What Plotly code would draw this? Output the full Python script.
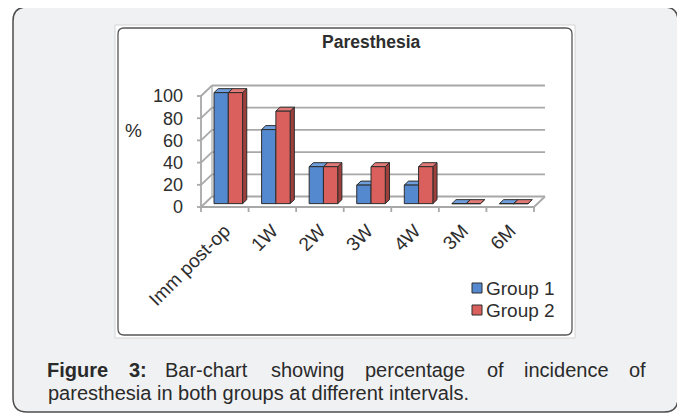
import plotly.graph_objects as go

# ---------------- data ----------------
categories = ["Imm post-op", "1W", "2W", "3W", "4W", "3M", "6M"]
group1 = [100, 66.7, 33.3, 16.7, 16.7, 0, 0]
group2 = [100, 83.3, 33.3, 33.3, 33.3, 0, 0]
series_names = ["Group 1", "Group 2"]
y_ticks = [0, 20, 40, 60, 80, 100]

# ---------------- geometry (window pixels) ----------------
W, H = 685, 419
OFF = 8.0             # page body margin around the plot div
X_LEFT_PX = 201.0     # front-left corner of the floor
CAT_PX = 47.57        # width of one category on the front plane
Y0_PX = 207.0         # value 0 on the front plane
UNIT_PX = 1.11        # pixels per percent on the front plane
DEPTH_PX = (11.0, 10.5)  # depth vector (right, up)
DOM_X = (195.0, 560.0)
DOM_Y = (70.0, 215.0)   # top, bottom

n = len(categories)
xmin = -0.5 - (X_LEFT_PX - DOM_X[0]) / CAT_PX
xmax = xmin + (DOM_X[1] - DOM_X[0]) / CAT_PX
ymin = -(DOM_Y[1] - Y0_PX) / UNIT_PX
ymax = (Y0_PX - DOM_Y[0]) / UNIT_PX
ddx = DEPTH_PX[0] / CAT_PX
ddy = DEPTH_PX[1] / UNIT_PX

BAR_W = 0.30
F0, F1 = 0.32, 0.70

colors = {
    "Group 1": {"front": "#5589cf", "top": "#6f9edc", "side": "#3b6399"},
    "Group 2": {"front": "#d9605c", "top": "#e27b77", "side": "#9e3f3c"},
}
OUTLINE = "#2d2d2d"
GRID = "#a8a8a8"
TXT = "#2e2e2e"


def px2paper(x, y):
    return (x - OFF) / W, 1 - (y - OFF) / H


def rrect_path(x0, y0, x1, y1, r):
    pts = [
        ("M", [(x0 + r, y0)]), ("L", [(x1 - r, y0)]), ("Q", [(x1, y0), (x1, y0 + r)]),
        ("L", [(x1, y1 - r)]), ("Q", [(x1, y1), (x1 - r, y1)]),
        ("L", [(x0 + r, y1)]), ("Q", [(x0, y1), (x0, y1 - r)]),
        ("L", [(x0, y0 + r)]), ("Q", [(x0, y0), (x0 + r, y0)]),
    ]
    s = ""
    for cmd, ps in pts:
        s += cmd + " " + " ".join("%.5f,%.5f" % px2paper(px, py) for px, py in ps) + " "
    return s + "Z"


fig = go.Figure()

# ---------------- 3D bars as polygons ----------------
for gi, (name, vals) in enumerate(zip(series_names, [group1, group2])):
    faces = {"side": ([], []), "top": ([], []), "front": ([], [])}
    for i, v in enumerate(vals):
        a = i - BAR_W + gi * BAR_W
        b = a + BAR_W
        ox0, oy0 = F0 * ddx, F0 * ddy
        ox1, oy1 = F1 * ddx, F1 * ddy
        polys = {
            "front": [(a + ox0, oy0), (b + ox0, oy0), (b + ox0, v + oy0), (a + ox0, v + oy0)],
            "top": [(a + ox0, v + oy0), (b + ox0, v + oy0), (b + ox1, v + oy1), (a + ox1, v + oy1)],
            "side": [(b + ox0, oy0), (b + ox1, oy1), (b + ox1, v + oy1), (b + ox0, v + oy0)],
        }
        for k, poly in polys.items():
            xs, ys = faces[k]
            xs += [p[0] for p in poly] + [poly[0][0], None]
            ys += [p[1] for p in poly] + [poly[0][1], None]
    for k in ["side", "top", "front"]:
        xs, ys = faces[k]
        fig.add_trace(go.Scatter(
            x=xs, y=ys, mode="lines", fill="toself", fillcolor=colors[name][k],
            line=dict(color=OUTLINE, width=1), hoverinfo="skip", showlegend=False,
            name=name))

# ---------------- walls, floor, grid ----------------
shapes = []
# page box
shapes.append(dict(type="path", xref="paper", yref="paper", layer="below",
                   path=rrect_path(13, 7, 678, 412, 14),
                   fillcolor="#f0f1f3", line=dict(color="#4d4d4d", width=1.5)))
# chart image frame
x0p, y0p = px2paper(115, 25)
x1p, y1p = px2paper(575, 338)
shapes.append(dict(type="rect", xref="paper", yref="paper", layer="below",
                   x0=x0p, y0=y1p, x1=x1p, y1=y0p, fillcolor="white",
                   line=dict(color="#d4d4d4", width=1)))
shapes.append(dict(type="path", xref="paper", yref="paper", layer="below",
                   path=rrect_path(118, 28, 572, 335, 6),
                   fillcolor="white", line=dict(color="#555555", width=1.3)))


def seg(x0, y0, x1, y1, color=GRID, width=1.8):
    return dict(type="line", xref="x", yref="y", layer="below", x0=x0, y0=y0, x1=x1, y1=y1,
                line=dict(color=color, width=width))


left = -0.5
right = n - 0.5
for v in y_ticks:
    shapes.append(seg(left + ddx, v + ddy, right + ddx, v + ddy))
    shapes.append(seg(left, v, left + ddx, v + ddy))
    shapes.append(seg(left, v, left - 4 / CAT_PX, v))
shapes.append(seg(left, 0, left, y_ticks[-1]))
shapes.append(seg(left + ddx, ddy, left + ddx, y_ticks[-1] + ddy, width=1.2))
shapes.append(seg(left, 0, right, 0))
shapes.append(seg(right, 0, right + ddx, ddy))
for k in range(n + 1):
    bx = left + k
    shapes.append(seg(bx, 0, bx, -5 / UNIT_PX))

# ---------------- legend (keys + labels) ----------------
ann = []
legend_rows = [288, 310]
for name, ry in zip(series_names, legend_rows):
    kx0, ky0 = px2paper(472, ry - 5)
    kx1, ky1 = px2paper(482, ry + 5)
    shapes.append(dict(type="rect", xref="paper", yref="paper", x0=kx0, y0=ky1, x1=kx1, y1=ky0,
                       fillcolor=colors[name]["front"], line=dict(color=OUTLINE, width=1)))
    tx, ty = px2paper(485, ry)
    ann.append(dict(x=tx, y=ty, xref="paper", yref="paper", text=name, xanchor="left",
                    yanchor="middle", showarrow=False, borderpad=0,
                    font=dict(size=19, color=TXT, family="Liberation Sans, Arial")))

# ---------------- annotations ----------------
tx, ty = px2paper(371, 42)
ann.append(dict(x=tx, y=ty, xref="paper", yref="paper", text="<b>Paresthesia</b>",
                xanchor="center", yanchor="middle",
                showarrow=False, font=dict(size=17.5, color=TXT, family="Liberation Sans, Arial")))
tx, ty = px2paper(134, 130)
ann.append(dict(x=tx, y=ty, xref="paper", yref="paper", text="%",
                xanchor="center", yanchor="middle",
                showarrow=False, font=dict(size=19, color=TXT, family="Liberation Sans, Arial")))

# caption: first line justified (word centres), second line left-aligned
cap_font = dict(size=20, color="#2a2a2a", family="Liberation Sans, Arial")
line1 = [("<b>Figure</b>", 77.5), ("<b>3:</b>", 138), ("Bar-chart", 206), ("showing", 307),
         ("percentage", 415), ("of", 495.5), ("incidence", 566), ("of", 637.5)]
for word, xpx in line1:
    tx, ty = px2paper(xpx, 370)
    ann.append(dict(x=tx, y=ty, xref="paper", yref="paper", text=word, xanchor="center",
                    yanchor="middle", showarrow=False, font=cap_font, borderpad=0))
tx, ty = px2paper(47, 393)
ann.append(dict(x=tx, y=ty, xref="paper", yref="paper",
                text="paresthesia in both groups at different intervals.", xanchor="left",
                yanchor="middle", showarrow=False, font=cap_font, borderpad=0))

dx0, _ = px2paper(DOM_X[0], 0)
dx1, _ = px2paper(DOM_X[1], 0)
_, dy_top = px2paper(0, DOM_Y[0])
_, dy_bot = px2paper(0, DOM_Y[1])

fig.update_layout(
    width=W, height=H, margin=dict(l=0, r=0, t=0, b=0, autoexpand=False),
    paper_bgcolor="white", plot_bgcolor="rgba(0,0,0,0)",
    shapes=shapes, annotations=ann, showlegend=False,
    font=dict(family="Liberation Sans, Arial", color=TXT),
    xaxis=dict(domain=[dx0, dx1], range=[xmin, xmax],
               tickvals=list(range(n)), ticktext=categories, tickangle=-45,
               tickfont=dict(size=19, color=TXT), showgrid=False, zeroline=False,
               showline=False, ticks="", fixedrange=True, automargin=False),
    yaxis=dict(domain=[dy_bot, dy_top], range=[ymin, ymax],
               tickvals=y_ticks, tickfont=dict(size=18, color=TXT), showgrid=False,
               zeroline=False, showline=False, ticks="", ticklabelstandoff=11,
               fixedrange=True, automargin=False),
)

fig.write_html("out.html")
